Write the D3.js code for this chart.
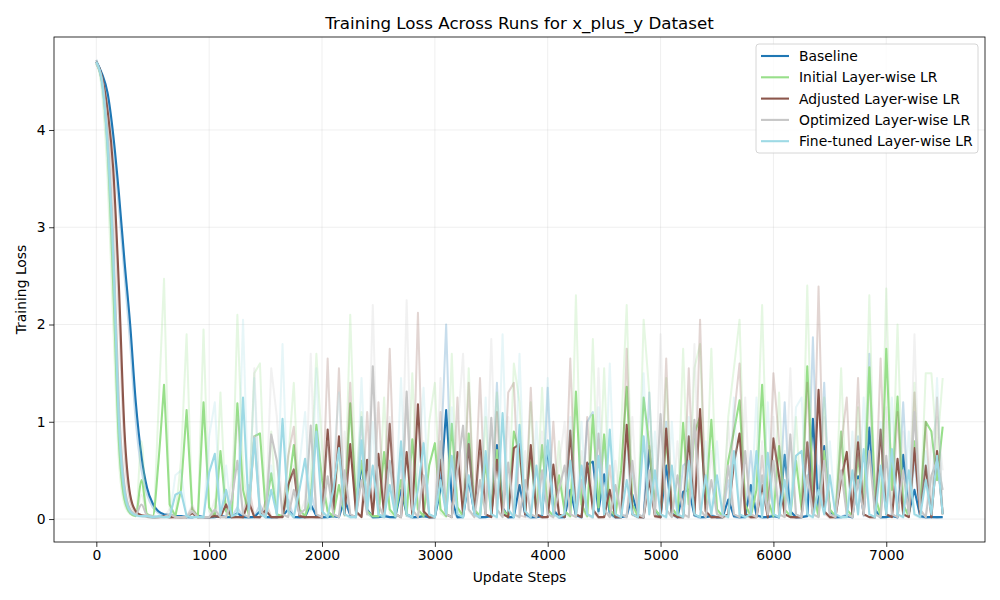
<!DOCTYPE html>
<html>
<head>
<meta charset="utf-8">
<script src="https://d3js.org/d3.v7.min.js"></script>
<style>
  body { margin: 0; background: #fff; }
  text { font-family: "DejaVu Sans", sans-serif; }
</style>
</head>
<body>
<svg id="chart" width="1000" height="600"></svg>
<script>
// update steps (every 50)
const steps = [
  0,50,100,150,200,250,300,350,400,450,
  500,550,600,650,700,750,800,850,900,950,
  1000,1050,1100,1150,1200,1250,1300,1350,1400,1450,
  1500,1550,1600,1650,1700,1750,1800,1850,1900,1950,
  2000,2050,2100,2150,2200,2250,2300,2350,2400,2450,
  2500,2550,2600,2650,2700,2750,2800,2850,2900,2950,
  3000,3050,3100,3150,3200,3250,3300,3350,3400,3450,
  3500,3550,3600,3650,3700,3750,3800,3850,3900,3950,
  4000,4050,4100,4150,4200,4250,4300,4350,4400,4450,
  4500,4550,4600,4650,4700,4750,4800,4850,4900,4950,
  5000,5050,5100,5150,5200,5250,5300,5350,5400,5450,
  5500,5550,5600,5650,5700,5750,5800,5850,5900,5950,
  6000,6050,6100,6150,6200,6250,6300,6350,6400,6450,
  6500,6550,6600,6650,6700,6750,6800,6850,6900,6950,
  7000,7050,7100,7150,7200,7250,7300,7350,7400,7450,
  7500
];

// smoothed loss per run
const baselineLoss = [
  4.70,4.58,4.38,3.95,3.35,2.65,2.00,1.20,0.65,0.32,
  0.16,0.08,0.05,0.04,0.03,0.03,0.02,0.02,0.03,0.02,
  0.02,0.02,0.03,0.02,0.02,0.06,0.02,0.02,0.02,0.08,
  0.02,0.02,0.02,0.03,0.10,0.02,0.02,0.02,0.15,0.03,
  0.02,0.02,0.03,0.02,0.20,0.04,0.02,0.57,0.10,0.02,
  0.02,0.03,0.02,0.02,0.30,0.05,0.02,0.02,0.03,0.02,
  0.02,0.30,1.12,0.20,0.02,0.02,0.40,0.06,0.02,0.02,
  0.03,0.76,0.12,0.02,0.02,0.35,0.05,0.02,0.02,0.03,
  0.75,0.10,0.02,0.02,0.30,0.04,0.02,0.56,0.59,0.08,
  0.46,0.06,0.02,0.02,0.03,0.25,0.03,0.02,0.71,0.10,
  0.02,0.55,0.06,0.02,0.28,0.30,0.04,0.02,0.02,0.03,
  0.02,0.02,0.20,0.03,0.02,0.02,0.35,0.04,0.02,0.02,
  0.03,0.02,0.66,0.08,0.02,0.02,0.03,1.03,0.12,0.75,
  0.08,0.02,0.02,0.03,0.02,0.44,0.05,0.94,0.10,0.02,
  0.02,0.03,0.02,0.66,0.06,0.30,0.03,0.02,0.02,0.02,
  0.02
];
const initialLoss = [
  4.68,4.50,3.80,2.40,0.80,0.20,0.06,0.03,0.40,0.05,
  0.03,0.58,1.38,0.15,0.03,0.30,1.12,0.10,0.03,1.20,
  0.12,0.03,0.70,0.08,0.03,1.19,0.30,0.05,0.85,0.88,
  0.10,0.47,0.05,0.03,0.30,0.76,0.10,0.03,0.20,0.97,
  0.40,0.08,0.03,0.35,0.05,1.19,0.20,0.60,0.08,0.03,
  0.03,0.69,0.10,0.03,0.40,0.05,0.82,0.10,0.03,0.55,
  0.78,0.10,0.03,0.98,0.12,0.03,0.88,0.10,0.03,0.58,
  0.05,0.71,0.10,0.03,0.90,0.68,0.10,0.68,0.05,0.76,
  0.10,0.03,0.45,0.08,0.03,1.31,0.15,0.03,1.07,0.12,
  0.87,0.10,0.03,0.50,1.36,0.15,0.03,1.25,0.75,0.10,
  0.03,0.83,0.12,0.03,0.99,0.15,0.88,1.05,0.15,1.02,
  0.10,0.03,0.60,0.90,1.22,0.15,0.03,0.30,1.38,0.20,
  0.03,0.75,0.10,0.03,0.60,0.10,1.57,0.30,0.03,0.70,
  0.10,0.03,0.90,0.10,0.03,0.65,0.08,1.56,0.25,0.03,
  1.75,0.30,1.26,0.15,0.03,0.80,0.10,1.00,0.90,0.40,
  0.95
];
const adjustedLoss = [
  4.70,4.55,4.20,3.60,2.40,0.90,0.25,0.08,0.04,0.03,
  0.02,0.02,0.03,0.02,0.02,0.02,0.02,0.06,0.02,0.02,
  0.02,0.03,0.02,0.15,0.02,0.02,0.02,0.18,0.02,0.02,
  0.09,0.02,0.02,0.02,0.35,0.51,0.03,0.02,0.02,0.02,
  0.02,0.92,0.10,0.85,0.05,0.77,0.08,0.02,0.61,0.05,
  0.67,0.05,0.98,0.05,0.02,0.69,0.05,1.18,0.08,0.02,
  0.02,0.61,0.05,0.02,0.69,0.05,0.77,0.05,0.81,0.05,
  0.02,0.61,0.05,0.02,0.73,0.77,0.05,0.76,0.05,0.02,
  0.02,0.56,0.05,0.02,0.91,0.05,0.02,0.58,0.10,0.02,
  0.02,0.30,0.02,0.02,0.97,0.05,0.02,0.02,0.40,0.03,
  0.02,0.93,0.05,0.02,0.02,0.85,0.05,1.13,0.08,0.02,
  0.02,0.02,0.05,0.57,0.88,0.05,0.02,0.02,0.35,0.02,
  0.83,0.44,0.05,0.02,0.02,0.02,0.79,0.05,1.33,0.08,
  0.02,0.02,0.40,0.69,0.05,0.79,0.05,0.02,0.02,0.92,
  0.05,0.02,0.62,0.05,0.02,0.73,0.05,0.55,0.02,0.70,
  0.05
];
const optimizedLoss = [
  4.68,4.52,3.95,2.90,1.20,0.35,0.10,0.05,0.15,0.04,
  0.03,0.02,0.02,0.05,0.02,0.02,0.02,0.08,0.02,0.02,
  0.02,0.10,0.02,0.02,0.20,0.60,0.05,0.02,0.85,0.10,
  0.02,0.87,0.60,0.05,0.02,0.30,0.05,0.10,0.96,0.05,
  0.02,0.44,0.05,0.02,0.50,0.05,0.02,0.40,0.05,1.57,
  0.15,0.02,0.60,0.05,0.02,1.31,0.10,0.02,0.45,0.05,
  0.02,0.80,0.05,0.02,0.50,0.96,0.10,0.02,0.40,0.05,
  1.04,0.10,0.02,0.58,0.05,0.02,0.40,0.05,0.02,0.50,
  0.05,0.02,0.30,0.55,0.05,0.02,0.40,0.05,0.02,0.88,
  0.10,0.02,0.35,0.05,0.02,0.60,0.05,0.02,0.50,0.05,
  1.08,0.10,0.02,0.45,0.05,0.02,1.02,0.10,0.02,0.40,
  0.05,0.02,0.55,0.05,0.02,0.70,0.05,0.02,0.45,0.05,
  0.60,0.05,0.02,0.87,0.05,0.02,0.45,0.05,0.02,0.60,
  0.05,0.02,0.50,0.05,0.02,0.40,0.05,0.70,0.05,0.02,
  0.65,0.05,0.02,0.50,0.05,1.10,0.10,0.02,0.45,0.60,
  0.30
];
const finetunedLoss = [
  4.70,4.50,3.85,2.70,1.00,0.28,0.08,0.04,0.03,0.03,
  0.02,0.03,0.02,0.02,0.25,0.28,0.03,0.02,0.02,0.02,
  0.48,0.67,0.05,0.30,0.03,0.05,1.25,0.10,0.83,0.05,
  0.02,0.30,0.05,1.03,0.08,0.02,0.30,0.62,0.10,0.90,
  0.08,0.02,0.30,0.73,0.05,0.02,0.02,0.81,0.10,0.55,
  0.05,0.02,0.35,0.03,0.80,0.05,0.02,0.30,0.78,0.05,
  0.02,0.40,0.05,0.65,0.05,0.02,0.45,0.05,0.02,0.70,
  0.05,0.02,1.09,0.10,0.02,0.97,0.08,0.02,0.55,0.05,
  0.81,0.05,0.02,0.05,0.60,0.05,0.55,0.05,0.02,0.65,
  0.05,0.92,0.05,0.02,0.40,0.05,0.02,0.85,0.05,0.50,
  0.05,0.02,0.55,0.05,0.02,0.60,0.05,0.02,0.45,0.05,
  0.45,0.05,0.02,0.70,0.05,0.02,0.05,0.70,0.02,0.68,
  0.05,0.02,0.40,0.05,0.65,0.70,0.05,0.02,0.30,0.05,
  0.45,0.05,0.02,0.02,0.50,0.05,0.72,0.05,0.02,0.55,
  0.05,0.72,0.05,0.02,0.50,0.05,0.02,0.40,0.05,0.65,
  0.05
];

// raw (unsmoothed) loss per run, drawn faint
const baselineRaw = [
  4.72,4.56,4.30,3.85,3.20,2.50,1.80,1.00,0.50,0.25,
  0.12,0.06,0.04,0.03,0.02,0.03,0.02,0.01,0.04,0.02,
  0.01,0.02,0.04,0.02,0.02,0.12,0.02,0.01,0.02,0.15,
  0.02,0.01,0.03,0.02,0.20,0.02,0.01,0.03,0.30,0.02,
  0.01,0.02,0.05,0.02,0.40,0.03,0.02,1.05,0.06,0.01,
  0.02,0.05,0.02,0.01,0.60,0.03,0.01,0.02,0.04,0.01,
  0.02,0.55,2.00,0.10,0.01,0.03,0.80,0.04,0.01,0.02,
  0.04,1.40,0.08,0.01,0.02,0.70,0.03,0.01,0.02,0.05,
  1.35,0.06,0.01,0.02,0.60,0.03,0.01,1.00,1.10,0.05,
  0.85,0.04,0.01,0.02,0.05,0.50,0.02,0.01,1.30,0.06,
  0.02,1.00,0.04,0.01,0.55,0.60,0.03,0.01,0.02,0.05,
  0.01,0.02,0.40,0.02,0.01,0.03,0.70,0.03,0.01,0.02,
  0.05,0.01,1.20,0.05,0.01,0.02,0.04,1.87,0.08,1.40,
  0.05,0.01,0.02,0.05,0.01,0.85,0.03,1.70,0.06,0.01,
  0.02,0.05,0.01,1.20,0.04,0.60,0.02,0.01,0.02,0.01,
  0.02
];
const initialRaw = [
  4.70,4.40,3.50,2.00,0.60,0.15,0.05,0.03,0.80,0.03,
  0.02,1.10,2.47,0.10,0.02,0.60,1.90,0.06,0.02,1.95,
  0.08,0.02,1.30,0.05,0.02,2.10,0.50,0.03,1.50,1.60,
  0.06,0.90,0.03,0.02,0.60,1.40,0.06,0.02,0.40,1.70,
  0.75,0.05,0.02,0.65,0.03,2.10,0.35,1.10,0.05,0.02,
  0.02,1.25,0.06,0.02,0.75,0.03,1.50,0.06,0.02,1.00,
  1.40,0.06,0.02,1.70,0.08,0.02,1.55,0.06,0.02,1.05,
  0.03,1.30,0.06,0.02,1.60,1.20,0.06,1.20,0.03,1.35,
  0.06,0.02,0.80,0.05,0.02,2.30,0.10,0.02,1.85,0.08,
  1.55,0.06,0.02,0.90,2.20,0.10,0.02,2.05,1.30,0.06,
  0.02,1.45,0.08,0.02,1.75,0.10,1.55,1.80,0.10,1.75,
  0.06,0.02,1.05,1.55,2.05,0.10,0.02,0.55,2.20,0.12,
  0.02,1.30,0.06,0.02,1.05,0.06,2.40,0.20,0.02,1.25,
  0.06,0.02,1.55,0.06,0.02,1.15,0.05,2.30,0.15,0.02,
  2.37,0.20,2.00,0.10,0.02,1.40,0.06,1.50,1.50,0.70,
  1.45
];
const adjustedRaw = [
  4.72,4.50,4.10,3.40,2.10,0.70,0.18,0.06,0.03,0.02,
  0.01,0.02,0.03,0.01,0.02,0.01,0.02,0.12,0.01,0.02,
  0.01,0.05,0.02,0.30,0.01,0.02,0.01,0.35,0.02,0.01,
  0.18,0.02,0.01,0.03,0.65,0.95,0.03,0.01,0.02,0.01,
  0.02,1.65,0.08,1.55,0.04,1.40,0.06,0.02,1.10,0.04,
  1.20,0.04,1.75,0.05,0.02,1.25,0.04,2.12,0.06,0.01,
  0.02,1.10,0.04,0.02,1.25,0.04,1.40,0.05,1.45,0.04,
  0.02,1.10,0.04,1.30,1.40,0.04,0.02,1.35,0.04,0.01,
  0.02,1.00,0.04,0.02,1.65,0.04,0.02,1.05,0.08,0.01,
  0.02,0.55,0.02,0.01,1.75,0.04,0.02,0.01,0.75,0.02,
  0.01,1.65,0.04,0.02,0.01,1.55,0.04,2.05,0.06,0.01,
  0.02,0.01,0.04,1.05,1.60,0.04,0.01,0.02,0.65,0.01,
  1.50,0.80,0.04,0.02,0.01,0.02,1.40,0.04,2.39,0.06,
  0.01,0.02,0.75,1.25,0.04,1.45,0.04,0.02,0.01,1.65,
  0.04,0.02,1.10,0.04,0.02,1.30,0.04,1.00,0.02,1.25,
  0.04
];
const optimizedRaw = [
  4.70,4.48,3.80,2.60,1.00,0.28,0.08,0.04,0.25,0.03,
  0.02,0.01,0.02,0.10,0.02,0.01,0.02,0.15,0.01,0.02,
  0.01,0.20,0.02,0.01,0.40,1.05,0.04,0.02,1.55,0.08,
  0.02,1.55,1.05,0.04,0.02,0.55,0.04,0.20,1.70,0.04,
  0.02,0.80,0.04,0.02,0.90,0.04,0.01,0.70,0.04,2.20,
  0.12,0.02,1.05,0.04,0.01,2.25,0.08,0.02,0.80,0.04,
  0.01,1.45,0.04,0.02,0.90,1.70,0.08,0.02,0.70,0.04,
  1.85,0.08,0.02,1.05,0.04,0.01,0.70,0.04,0.02,0.90,
  0.04,0.01,0.55,1.00,0.04,0.02,0.70,0.04,0.01,1.55,
  0.08,0.02,0.60,0.04,0.01,1.05,0.04,0.02,0.90,0.04,
  1.90,0.08,0.02,0.80,0.04,0.01,1.80,0.08,0.02,0.70,
  0.04,0.02,1.00,0.04,0.01,1.25,0.04,0.02,0.80,0.04,
  1.05,0.04,0.02,1.55,0.04,0.01,0.80,0.04,0.02,1.05,
  0.04,0.02,0.90,0.04,0.01,0.70,0.04,1.25,0.04,0.02,
  1.15,0.04,0.02,0.90,0.04,1.90,0.08,0.02,0.80,1.05,
  0.50
];
const finetunedRaw = [
  4.72,4.45,3.70,2.40,0.80,0.22,0.06,0.03,0.02,0.02,
  0.01,0.02,0.01,0.02,0.45,0.50,0.02,0.01,0.02,0.01,
  0.85,1.20,0.04,0.55,0.02,0.08,2.05,0.08,1.45,0.04,
  0.01,0.55,0.04,1.80,0.06,0.01,0.55,1.10,0.08,1.55,
  0.06,0.01,0.55,1.30,0.04,0.01,0.02,1.45,0.08,1.00,
  0.04,0.01,0.60,0.02,1.45,0.04,0.01,0.55,1.35,0.04,
  0.01,0.70,0.04,1.15,0.04,0.01,0.80,0.04,0.01,1.25,
  0.04,0.01,1.90,0.08,0.01,1.70,0.06,0.01,1.00,0.04,
  1.45,0.04,0.01,0.04,1.05,0.04,1.00,0.04,0.01,1.15,
  0.04,1.60,0.04,0.01,0.70,0.04,0.01,1.50,0.04,0.90,
  0.04,0.01,1.00,0.04,0.01,1.05,0.04,0.01,0.80,0.04,
  0.80,0.04,0.01,1.25,0.04,0.01,0.04,1.25,0.01,1.20,
  0.04,0.01,0.70,0.04,1.15,1.25,0.04,0.01,0.55,0.04,
  0.80,0.04,0.01,0.02,0.90,0.04,1.25,0.04,0.01,1.00,
  0.04,1.25,0.04,0.01,0.90,0.04,0.01,0.70,0.04,1.45,
  0.04
];

const runNames = ["Baseline", "Initial Layer-wise LR", "Adjusted Layer-wise LR",
                  "Optimized Layer-wise LR", "Fine-tuned Layer-wise LR"];
const runColors = ["#1f77b4", "#98df8a", "#8c564b", "#c7c7c7", "#9edae5"];
const smoothSeries = [baselineLoss, initialLoss, adjustedLoss, optimizedLoss, finetunedLoss];
const rawSeries = [baselineRaw, initialRaw, adjustedRaw, optimizedRaw, finetunedRaw];

const xTicks = [0, 1000, 2000, 3000, 4000, 5000, 6000, 7000];
const yTicks = [0, 1, 2, 3, 4];

const plotLeft = 54, plotRight = 985, plotTop = 37, plotBottom = 542;
const descentEnd = 12; // index where the initial drop has flattened out

const svg = d3.select("#chart");

const x = d3.scaleLinear().domain([-375, 7875]).range([plotLeft, plotRight]);
const y = d3.scaleLinear().domain([-0.236, 4.956]).range([plotBottom, plotTop]);

// grid
const grid = svg.append("g");
grid.selectAll(".gx").data(xTicks).join("line")
  .attr("x1", d => x(d)).attr("x2", d => x(d))
  .attr("y1", plotTop).attr("y2", plotBottom)
  .attr("stroke", "#b0b0b0").attr("stroke-opacity", 0.25).attr("stroke-width", 0.8);
grid.selectAll(".gy").data(yTicks).join("line")
  .attr("x1", plotLeft).attr("x2", plotRight)
  .attr("y1", d => y(d)).attr("y2", d => y(d))
  .attr("stroke", "#b0b0b0").attr("stroke-opacity", 0.25).attr("stroke-width", 0.8);

// smooth curve for the initial drop, straight segments for the spiky part
const lineSmooth = d3.line().x(d => x(d[0])).y(d => y(d[1])).curve(d3.curveMonotoneX);
const lineSharp = d3.line().x(d => x(d[0])).y(d => y(d[1]));
const pathFor = pts => lineSmooth(pts.slice(0, descentEnd + 1)) + lineSharp(pts.slice(descentEnd)).replace(/^M/, "L");

const lines = svg.append("g").attr("stroke-linejoin", "round");
runNames.forEach((name, k) => {
  const raw = steps.map((s, i) => [s, rawSeries[k][i]]);
  const smooth = steps.map((s, i) => [s, smoothSeries[k][i]]);
  lines.append("path")
    .attr("d", pathFor(raw))
    .attr("fill", "none")
    .attr("stroke", runColors[k])
    .attr("stroke-opacity", 0.25)
    .attr("stroke-width", 2);
  lines.append("path")
    .attr("d", pathFor(smooth))
    .attr("fill", "none")
    .attr("stroke", runColors[k])
    .attr("stroke-width", 2.1);
});

// axes
const xAxis = svg.append("g")
  .attr("transform", "translate(0," + plotBottom + ")")
  .call(d3.axisBottom(x).tickValues(xTicks).tickSize(4.9).tickPadding(3.5).tickFormat(d3.format("d")));
const yAxis = svg.append("g")
  .attr("transform", "translate(" + plotLeft + ",0)")
  .call(d3.axisLeft(y).tickValues(yTicks).tickSize(4.9).tickPadding(3.5).tickFormat(d3.format("d")));
[xAxis, yAxis].forEach(a => {
  a.select(".domain").remove();
  a.selectAll("text").style("font-size", "13.9px").style("font-family", "DejaVu Sans").attr("fill", "#000");
  a.selectAll("line").attr("stroke", "#000").attr("stroke-width", 0.8);
});

// frame
svg.append("rect")
  .attr("x", plotLeft).attr("y", plotTop)
  .attr("width", plotRight - plotLeft).attr("height", plotBottom - plotTop)
  .attr("fill", "none").attr("stroke", "#000").attr("stroke-width", 0.8);

// titles
svg.append("text")
  .attr("x", (plotLeft + plotRight) / 2).attr("y", 29)
  .attr("text-anchor", "middle")
  .style("font-size", "16.7px")
  .text("Training Loss Across Runs for x_plus_y Dataset");
svg.append("text")
  .attr("x", (plotLeft + plotRight) / 2).attr("y", 582)
  .attr("text-anchor", "middle")
  .style("font-size", "13.9px")
  .text("Update Steps");
svg.append("text")
  .attr("transform", "translate(26," + (plotTop + plotBottom) / 2 + ") rotate(-90)")
  .attr("text-anchor", "middle")
  .style("font-size", "13.9px")
  .text("Training Loss");

// legend
const legend = svg.append("g");
legend.append("rect")
  .attr("x", 756).attr("y", 44).attr("width", 222).attr("height", 109)
  .attr("rx", 3)
  .attr("fill", "#fff").attr("fill-opacity", 0.8)
  .attr("stroke", "#cccccc").attr("stroke-width", 0.8);
runNames.forEach((name, k) => {
  const ly = 56 + k * 21.3;
  legend.append("line")
    .attr("x1", 761).attr("x2", 789).attr("y1", ly).attr("y2", ly)
    .attr("stroke", runColors[k]).attr("stroke-width", 2.1);
  legend.append("text")
    .attr("x", 799).attr("y", ly)
    .attr("dominant-baseline", "central")
    .style("font-size", "13.9px")
    .text(name);
});
</script>
</body>
</html>
